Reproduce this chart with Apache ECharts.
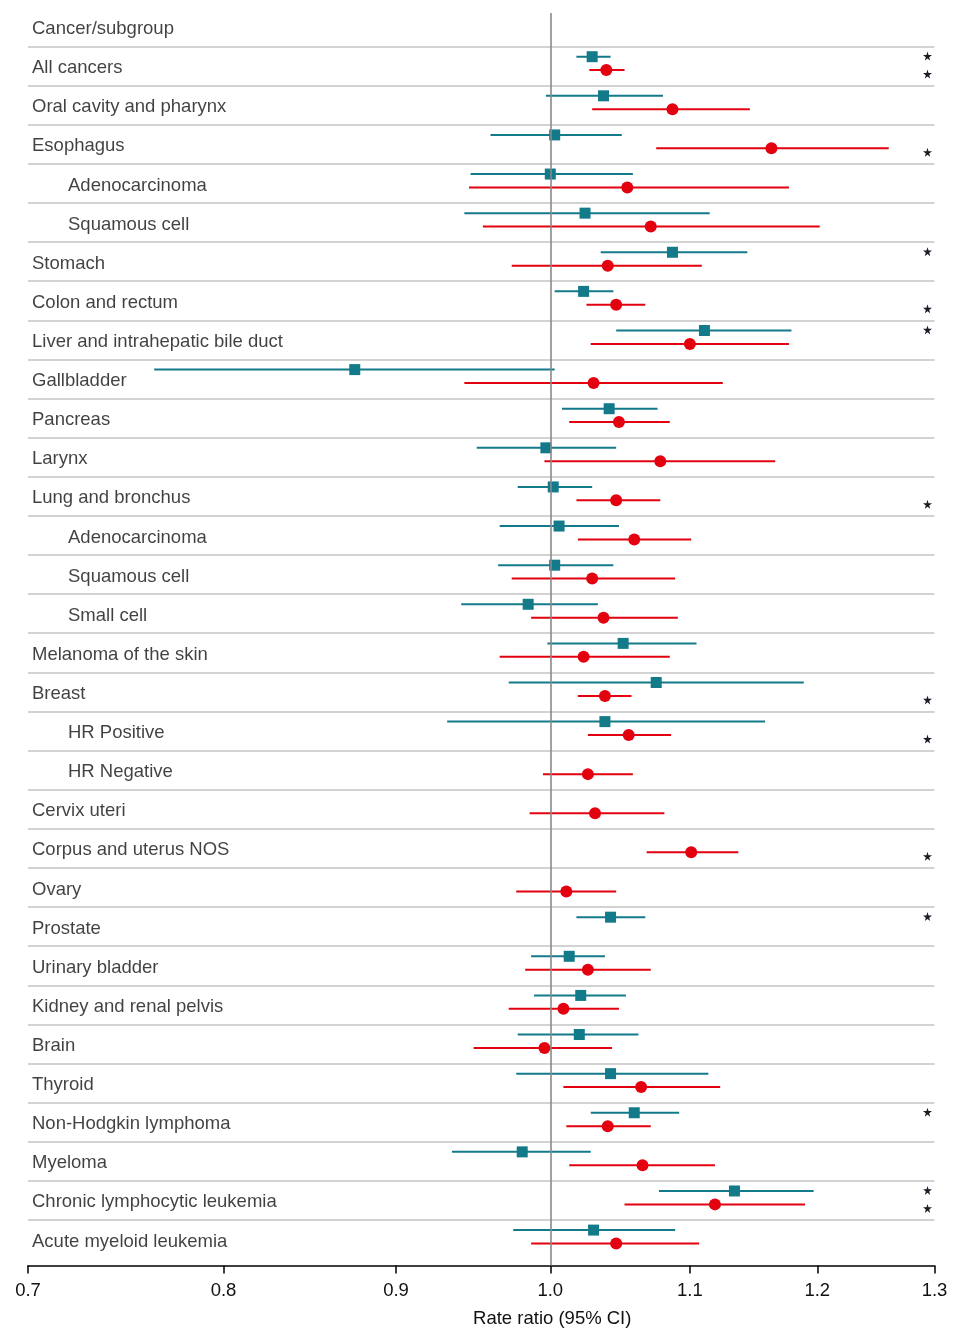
<!DOCTYPE html>
<html>
<head>
<meta charset="utf-8">
<script src="https://cdn.jsdelivr.net/npm/echarts@6/dist/echarts.min.js"></script>
<style>
html,body{margin:0;padding:0;background:#fff;}
#chart{width:954px;height:1333px;}
</style>
</head>
<body>
<div id="chart"></div>
<script>
const header = 'Cancer/subgroup';
const categories = ['All cancers','Oral cavity and pharynx','Esophagus','Adenocarcinoma','Squamous cell','Stomach','Colon and rectum','Liver and intrahepatic bile duct','Gallbladder','Pancreas','Larynx','Lung and bronchus','Adenocarcinoma','Squamous cell','Small cell','Melanoma of the skin','Breast','HR Positive','HR Negative','Cervix uteri','Corpus and uterus NOS','Ovary','Prostate','Urinary bladder','Kidney and renal pelvis','Brain','Thyroid','Non-Hodgkin lymphoma','Myeloma','Chronic lymphocytic leukemia','Acute myeloid leukemia'];
const levels = [0,0,0,1,1,0,0,0,0,0,0,0,1,1,1,0,0,1,1,0,0,0,0,0,0,0,0,0,0,0,0];

// Male (teal): rate ratio, lower, upper
const maleRR  = [1.029,1.037,1.003,1.000,1.024,1.087,1.023,1.111,0.875,1.041,0.997,1.002,1.006,1.003,0.985,1.051,1.075,1.038,null,null,null,null,1.042,1.013,1.021,1.020,1.042,1.059,0.981,1.134,1.030];
const maleLo  = [1.018,0.997,0.960,0.947,0.943,1.035,1.003,1.046,0.763,1.008,0.951,0.978,0.966,0.965,0.941,0.998,0.972,0.932,null,null,null,null,1.018,0.987,0.989,0.978,0.977,1.028,0.935,1.077,0.975];
const maleHi  = [1.042,1.080,1.050,1.058,1.115,1.144,1.044,1.179,1.003,1.076,1.046,1.029,1.048,1.044,1.033,1.105,1.189,1.158,null,null,null,null,1.067,1.038,1.053,1.062,1.114,1.092,1.028,1.197,1.089];
const maleSig = [1,0,0,0,0,1,0,1,0,0,0,0,0,0,0,0,0,0,0,0,0,0,1,0,0,0,0,1,0,1,0];

// Female (red): rate ratio, lower, upper
const femaleRR  = [1.039,1.087,1.163,1.054,1.071,1.040,1.046,1.100,1.030,1.048,1.078,1.046,1.059,1.029,1.037,1.023,1.038,1.055,1.026,1.031,1.101,1.011,null,1.026,1.009,0.996,1.064,1.040,1.065,1.119,1.046];
const femaleLo  = [1.027,1.029,1.075,0.946,0.955,0.974,1.025,1.028,0.943,1.013,0.996,1.018,1.019,0.974,0.987,0.966,1.019,1.026,0.995,0.986,1.068,0.977,null,0.983,0.972,0.949,1.009,1.011,1.013,1.052,0.987];
const femaleHi  = [1.052,1.146,1.260,1.177,1.202,1.109,1.067,1.177,1.125,1.085,1.166,1.078,1.101,1.089,1.091,1.085,1.057,1.086,1.058,1.081,1.137,1.046,null,1.071,1.048,1.043,1.123,1.071,1.119,1.190,1.107];
const femaleSig = [1,0,1,0,0,0,1,0,0,0,0,1,0,0,0,0,1,1,0,0,1,0,0,0,0,0,0,0,0,1,0];

const xTicks = [0.7,0.8,0.9,1.0,1.1,1.2,1.3];
const xMin = 0.7, xMax = 1.3;
const axisTitle = 'Rate ratio (95% CI)';

const FONT = "'Liberation Sans', Arial, Helvetica, sans-serif";
const TEAL = '#137a8a';
const RED = '#e3000f';
const TEXT = '#111111';
const ln = Math.log;

function rowOf(i){ return i + 1.5; } // header at 0.5
function pts(rr){ const out=[]; rr.forEach((v,i)=>{ if(v!=null) out.push([ln(v), rowOf(i)]); }); return out; }
function cis(lo,hi){ const out=[]; lo.forEach((v,i)=>{ if(v!=null) out.push([ln(v), ln(hi[i]), rowOf(i)]); }); return out; }
function stars(sig){ const out=[]; sig.forEach((s,i)=>{ if(s) out.push([ln(xMax), rowOf(i)]); }); return out; }

function ciSeries(lo,hi,color,off){
  return {
    type:'custom', z:3, silent:true,
    data: cis(lo,hi),
    encode:{x:[0,1], y:2},
    renderItem:(params, api)=>{
      const y = api.value(2);
      const a = api.coord([api.value(0), y]);
      const b = api.coord([api.value(1), y]);
      return {type:'line', shape:{x1:a[0], y1:a[1]+off, x2:b[0], y2:b[1]+off}, style:{stroke:color, lineWidth:2}};
    }
  };
}

const labelData = [{value:[ln(xMin), 0.5], name:header, label:{distance:4}}];
categories.forEach((c,i)=>{
  labelData.push({value:[ln(xMin), rowOf(i)], name:c, label:{distance: levels[i] ? 40 : 4}});
});

const sepLines = [];
for (let k=1;k<=categories.length;k++) sepLines.push({yAxis:k});

const STAR = 'path://M50,0 L61,35 L98,35 L68,57 L79,91 L50,70 L21,91 L32,57 L2,35 L39,35 Z';

const chart = echarts.init(document.getElementById('chart'), null, {renderer:'canvas'});
chart.setOption({
  animation:false,
  backgroundColor:'#ffffff',
  textStyle:{fontFamily:FONT},
  grid:{left:28, right:19.5, top:13, bottom:57.5, containLabel:false},
  xAxis:{
    type:'value', min:ln(xMin), max:ln(xMax),
    name:axisTitle, nameLocation:'middle', nameGap:43.5,
    nameTextStyle:{fontSize:18.5, color:TEXT, fontFamily:FONT, padding:[0,0,0,142]},
    axisLine:{show:true, onZero:false, lineStyle:{color:'#000', width:1.5}},
    axisTick:{show:true, length:8, lineStyle:{color:'#000', width:1.5}, customValues: xTicks.map(ln)},
    axisLabel:{show:true, fontSize:18.5, color:TEXT, fontFamily:FONT, margin:15.5,
      customValues: xTicks.map(ln), formatter:(v)=>Math.exp(v).toFixed(1)},
    splitLine:{show:false}
  },
  yAxis:{
    type:'value', inverse:true, min:0.1425, max:32.165, show:false, splitLine:{show:false}
  },
  series:[
    {
      type:'scatter', z:1, silent:true, symbolSize:0,
      data: labelData,
      label:{show:true, position:'right', offset:[0,2], formatter:(p)=>p.name, fontSize:18.5, color:TEXT, fontFamily:FONT},
      markLine:{silent:true, symbol:['none','none'], label:{show:false}, animation:false,
        lineStyle:{color:'#d2d2d2', width:2, type:'solid'}, data: sepLines}
    },
    {
      type:'scatter', z:2, silent:true, symbolSize:0, data:[],
      markLine:{silent:true, symbol:['none','none'], label:{show:false}, animation:false,
        lineStyle:{color:'#8a8a8a', width:1.6, type:'solid'}, data:[{xAxis:0}]}
    },
    ciSeries(maleLo, maleHi, TEAL, -9.4),
    ciSeries(femaleLo, femaleHi, RED, 4),
    {name:'Male', type:'scatter', z:4, silent:true, symbol:'rect', symbolSize:11, symbolOffset:[0,-9.4],
      itemStyle:{color:TEAL, opacity:1}, data: pts(maleRR)},
    {name:'Female', type:'scatter', z:4, silent:true, symbol:'circle', symbolSize:12, symbolOffset:[0,4],
      itemStyle:{color:RED, opacity:1}, data: pts(femaleRR)},
    {type:'scatter', z:5, silent:true, symbol:STAR, symbolSize:9, symbolOffset:[-7,-10],
      itemStyle:{color:'#1b1b2a', opacity:1}, data: stars(maleSig), clip:false},
    {type:'scatter', z:5, silent:true, symbol:STAR, symbolSize:9, symbolOffset:[-7,8],
      itemStyle:{color:'#1b1b2a', opacity:1}, data: stars(femaleSig), clip:false}
  ]
});
</script>
</body>
</html>
